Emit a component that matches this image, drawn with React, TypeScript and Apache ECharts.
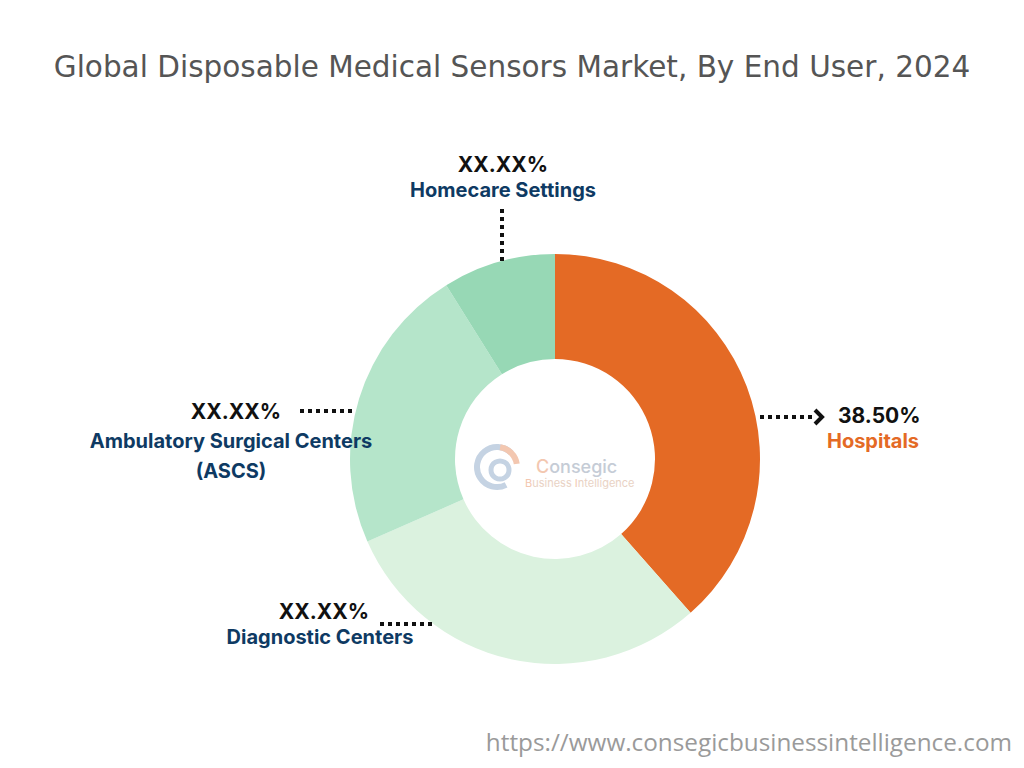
import React, { useEffect, useRef } from "react";
import * as echarts from "echarts";

const categories = ["Hospitals", "Diagnostic Centers", "Ambulatory Surgical Centers (ASCS)", "Homecare Settings"];
const shares = [38.5, 29.9, 22.7, 8.9];
const valueLabels = ["38.50%", "XX.XX%", "XX.XX%", "XX.XX%"];
const sliceColors = ["#E46A25", "#DBF2DF", "#B5E5CA", "#97D8B5"];
const titleText = "Global Disposable Medical Sensors Market, By End User, 2024";
const sourceText = "https://www.consegicbusinessintelligence.com";

const CX = 555;
const CY = 459;
const labelFont = "Inter, 'Noto Sans', sans-serif";
const navy = "#0E3A63";

function dotted(x1: number, y1: number, x2: number, y2: number) {
  return {
    type: "line",
    shape: { x1, y1, x2, y2 },
    style: { stroke: "#111", lineWidth: 4, lineDash: [4, 4] },
    z: 10,
  };
}

function txt(x: number, y: number, text: string, size: number, color: string, align: string, weight = "bold") {
  return {
    type: "text",
    x,
    y,
    style: {
      text,
      fill: color,
      font: `${weight} ${size}px ${labelFont}`,
      textAlign: align,
      textVerticalAlign: "middle",
    },
    z: 10,
  };
}

export default function App() {
  const ref = useRef<HTMLDivElement>(null);
  useEffect(() => {
    if (!ref.current) return;
    const chart = echarts.init(ref.current, null, { renderer: "svg" });
    chart.setOption({
      animation: false,
      backgroundColor: "#ffffff",
      title: {
        text: titleText,
        left: "center",
        top: 47,
        textStyle: { fontFamily: "'DejaVu Sans', sans-serif", fontWeight: "normal", fontSize: 29.5, color: "#555555" },
      },
      series: [
        {
          type: "pie",
          center: [CX, CY],
          radius: [100, 205],
          startAngle: 90,
          clockwise: true,
          label: { show: false },
          labelLine: { show: false },
          silent: true,
          data: categories.map((c, i) => ({ name: c, value: shares[i], itemStyle: { color: sliceColors[i] } })),
        },
      ],
      graphic: [
        // Homecare
        txt(503, 164, valueLabels[3], 21, "#111", "center"),
        txt(503, 190, categories[3], 20, navy, "center"),
        dotted(502, 209, 502, 262),
        // Hospitals
        dotted(760, 417, 815, 417),
        {
          type: "polyline",
          shape: { points: [[815, 410], [822, 417], [815, 424]] },
          style: { stroke: "#111", lineWidth: 4, fill: "none" },
          z: 10,
        },
        txt(838, 415, valueLabels[0], 21, "#111", "left"),
        txt(873, 441, categories[0], 20, "#E46A25", "center"),
        // Ambulatory
        txt(236, 411, valueLabels[2], 21, "#111", "center"),
        dotted(300, 411, 354, 411),
        txt(231, 441, "Ambulatory Surgical Centers", 20, navy, "center"),
        txt(231, 471, "(ASCS)", 20, navy, "center"),
        // Diagnostic
        txt(324, 611, valueLabels[1], 21, "#111", "center"),
        dotted(380, 624, 434, 624),
        txt(320, 637, categories[1], 20, navy, "center"),
        // Logo
        {
          type: "arc",
          shape: { cx: 497, cy: 467, r: 20, startAngle: Math.PI * 0.35, endAngle: Math.PI * 1.75 },
          style: { stroke: "#C5D3E3", lineWidth: 6, fill: "none" },
          z: 5,
        },
        {
          type: "arc",
          shape: { cx: 497, cy: 467, r: 20, startAngle: Math.PI * 1.55, endAngle: Math.PI * 1.95 },
          style: { stroke: "#F3C7B0", lineWidth: 6, fill: "none" },
          z: 5,
        },
        {
          type: "circle",
          shape: { cx: 500, cy: 470, r: 9 },
          style: { stroke: "#C5D3E3", lineWidth: 5, fill: "none" },
          z: 5,
        },
        {
          type: "text",
          x: 536,
          y: 466,
          style: {
            text: "{c|C}{r|onsegic}",
            textVerticalAlign: "middle",
            rich: {
              c: { fill: "#F3C7B0", font: `500 18px ${labelFont}` },
              r: { fill: "#C5CCD6", font: `500 18px ${labelFont}` },
            },
          },
          z: 5,
        },
        {
          type: "text",
          x: 525,
          y: 483,
          style: {
            text: "{c|B}{r|usiness }{c|I}{r|ntelligence}",
            textVerticalAlign: "middle",
            rich: {
              c: { fill: "#F3C7B0", font: `normal 11px ${labelFont}` },
              r: { fill: "#E9D2C4", font: `normal 11px ${labelFont}` },
            },
          },
          z: 5,
        },
        // source
        {
          type: "text",
          right: 12,
          top: 729,
          style: {
            text: sourceText,
            fill: "#9A9A9A",
            font: `normal 24.3px 'Open Sans', sans-serif`,
          },
        },
      ],
    });
    return () => chart.dispose();
  }, []);
  return <div ref={ref} style={{ position: "fixed", left: 0, top: 0, width: 1024, height: 768 }} />;
}
